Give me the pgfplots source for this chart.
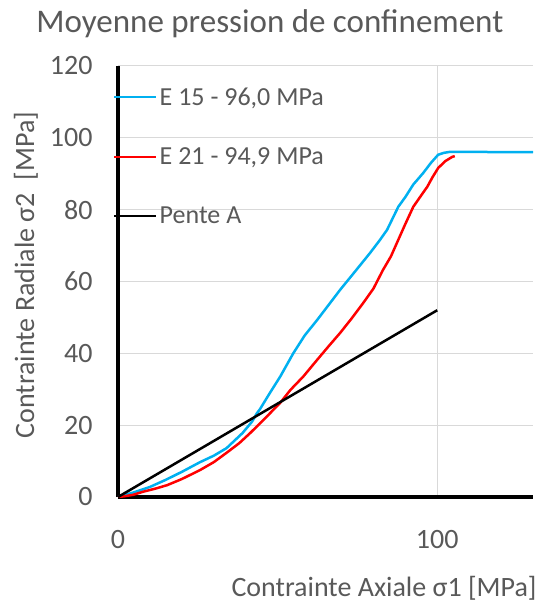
\documentclass[border=0pt]{standalone}
\usepackage{fontspec}
\setmainfont{Carlito}
\usepackage{pgfplots}
\pgfplotsset{compat=1.18}
\definecolor{eblue}{HTML}{00B0F0}
\definecolor{tgray}{HTML}{595959}
\definecolor{ggray}{HTML}{D9D9D9}
\begin{document}
\begin{tikzpicture}[x=1pt,y=1pt]
\useasboundingbox (-118,-108) rectangle (429,497);
\begin{axis}[
 at={(0,0)}, anchor=south west,
 scale only axis, width=415pt, height=431pt,
 xmin=0, xmax=130, ymin=0, ymax=120,
 axis x line*=bottom, axis y line*=left,
 axis line style={line width=4pt, black},
 xtick={0,100}, ytick={0,20,...,120},
 major tick length=0pt,
 ymajorgrids, xmajorgrids, grid style={ggray, line width=1pt},
 tick label style={font=\fontsize{28}{34}\selectfont, text=tgray},
 /pgf/number format/assume math mode=true,
 xticklabel style={yshift=-30pt},
 yticklabel style={xshift=-22pt},
 title={Moyenne pression de confinement},
 title style={at={(axis description cs:0.366,1)}, anchor=base, yshift=27pt, font=\fontsize{33}{40}\selectfont, text=tgray},
 xlabel={Contrainte Axiale σ1 [MPa]},
 xlabel style={at={(axis description cs:0.641,0)}, anchor=base, yshift=-99pt, font=\fontsize{28}{34}\selectfont, text=tgray},
 ylabel={Contrainte Radiale σ2 \ [MPa]},
 ylabel style={at={(axis description cs:-0.2024,0.515)}, anchor=base, font=\fontsize{28}{34}\selectfont, text=tgray},
 legend style={at={(axis description cs:-0.012,0.955)}, anchor=north west, draw=none, fill=none, font=\fontsize{26}{31}\selectfont, text=tgray, row sep=37pt, inner sep=0pt},
 legend cell align=left,
 legend image code/.code={\draw[#1] (0pt,0pt) -- (42pt,0pt);},
]
\addplot[eblue, line width=2.5pt] coordinates {
(0,0) (5,1.3) (10,2.8) (15,4.8) (20,7) (25.7,9.7) (30,11.5) (34,13.6) (39,17.8) (42,21) (43.5,23.3) (44.5,24.5) (47.6,29) (50.8,33.5) (54.9,40) (58.5,45) (62.4,49.3) (66,53.5) (69.6,57.7) (74,62.5) (79,68) (82,71.5) (84.3,74.4) (87.8,80.8) (90,83.5) (92.5,87) (95.6,90.2) (98,93) (100.3,95.3) (102,95.8) (104,96.1) (130,96)
};
\addlegendentry{E 15 - 96,0 MPa}
\addplot[red, line width=2.5pt] coordinates {
(0,0) (2,0.2) (4.7,0.6) (8,1.5) (12,2.4) (15.4,3.3) (20,5) (25.7,7.5) (30,9.7) (34,12.3) (38,15) (41.4,17.8) (45.5,21.4) (50.8,26.2) (54,29.8) (58,33.5) (62.4,38.2) (66,42) (69.6,45.7) (73,49.5) (76.8,54) (80,58) (83,63.2) (85.5,67) (87.8,71.6) (90,76) (92.5,80.8) (95,84) (96.9,86.4) (98.5,89) (100.3,91.6) (102.5,93.5) (104.7,94.7) (105.5,94.9)
};
\addlegendentry{E 21 - 94,9 MPa}
\addplot[black, line width=2.5pt] coordinates {(0,0) (100,52)};
\addlegendentry{Pente A}
\end{axis}
\end{tikzpicture}
\end{document}
